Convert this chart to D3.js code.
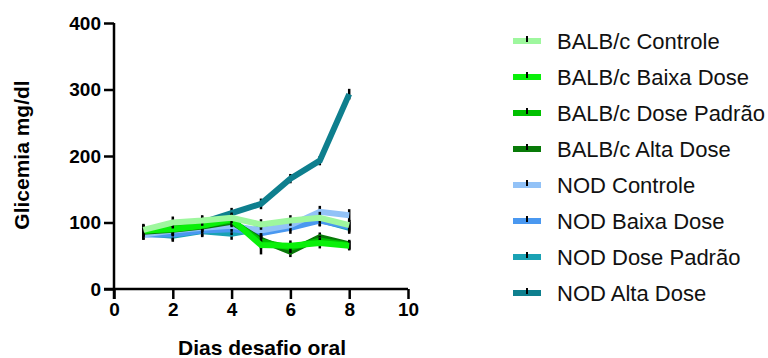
<!DOCTYPE html>
<html>
<head>
<meta charset="utf-8">
<script src="https://cdn.jsdelivr.net/npm/d3@7"></script>
<style>
  body { margin: 0; background: #fff; }
  svg text { font-family: "Liberation Sans", Arial, sans-serif; }
</style>
</head>
<body>
<div id="chart"></div>
<script>
// Dias desafio oral
const days = [1, 2, 3, 4, 5, 6, 7, 8];

const seriesNames = [
  'BALB/c Controle', 'BALB/c Baixa Dose', 'BALB/c Dose Padrão', 'BALB/c Alta Dose',
  'NOD Controle', 'NOD Baixa Dose', 'NOD Dose Padrão', 'NOD Alta Dose'
];
const seriesColors = [
  '#9ef79e', '#0af00a', '#00c000', '#087a08',
  '#92c2f7', '#4a98f0', '#1aa2b4', '#0e7f8e'
];

// mean glycemia per day
const balbControle = [89, 100, 103, 107, 97, 103, 107, 96];
const balbBaixa    = [88, 90, 95, 105, 66, 65, 69, 65];
const balbPadrao   = [87, 92, 96, 103, 71, 62, 73, 66];
const balbAlta     = [86, 89, 94, 101, 74, 56, 78, 67];
const nodControle  = [82, 88, 92, 95, 88, 96, 116, 111];
const nodBaixa     = [82, 82, 88, 90, 84, 92, 103, 94];
const nodPadrao    = [84, 80, 87, 83, 91, 98, 104, 92];
const nodAlta      = [87, 94, 100, 114, 128, 166, 193, 293];

// standard error per day
const errBalbControle = [9, 9, 8, 8, 8, 8, 9, 8];
const errBalbBaixa    = [9, 9, 8, 8, 14, 8, 8, 7];
const errBalbPadrao   = [9, 9, 8, 8, 10, 8, 7, 7];
const errBalbAlta     = [9, 9, 8, 8, 10, 8, 7, 7];
const errNodControle  = [8, 9, 9, 9, 9, 9, 9, 9];
const errNodBaixa     = [8, 9, 9, 9, 9, 9, 9, 9];
const errNodPadrao    = [8, 9, 9, 9, 9, 9, 9, 9];
const errNodAlta      = [9, 9, 9, 8, 8, 7, 7, 8];

const allMeans = [balbControle, balbBaixa, balbPadrao, balbAlta, nodControle, nodBaixa, nodPadrao, nodAlta];
const allErrs = [errBalbControle, errBalbBaixa, errBalbPadrao, errBalbAlta, errNodControle, errNodBaixa, errNodPadrao, errNodAlta];

const xTicks = [0, 2, 4, 6, 8, 10];
const yTicks = [0, 100, 200, 300, 400];

const series = seriesNames.map((name, i) => ({
  name,
  color: seriesColors[i],
  values: days.map((d, j) => ({ day: d, value: allMeans[i][j], err: allErrs[i][j] }))
}));

const width = 768, height = 358;
const svg = d3.select('#chart').append('svg')
  .attr('width', width)
  .attr('height', height);

const x = d3.scaleLinear().domain([0, 10]).range([114, 408]);
const y = d3.scaleLinear().domain([0, 400]).range([289, 23]);

// axes
const yAxis = svg.append('g')
  .attr('transform', `translate(${x(0)},0)`)
  .call(d3.axisLeft(y).tickValues(yTicks).tickSize(10).tickPadding(3).tickSizeOuter(0));
yAxis.select('.domain').attr('d', `M0,${y(400)}V${y(0) + 10}`);

const xAxis = svg.append('g')
  .attr('transform', `translate(0,${y(0)})`)
  .call(d3.axisBottom(x).tickValues(xTicks).tickSize(10).tickPadding(4).tickSizeOuter(0));
xAxis.select('.domain').attr('d', `M${x(0) - 10},0H${x(10)}`);

svg.selectAll('.domain, .tick line')
  .attr('stroke', '#000')
  .attr('stroke-width', 2.5);
svg.selectAll('.tick text')
  .attr('fill', '#000')
  .style('font-size', '19px')
  .style('font-weight', 'bold');

// axis titles
svg.append('text')
  .attr('x', 262)
  .attr('y', 355)
  .attr('text-anchor', 'middle')
  .style('font-size', '21px')
  .style('font-weight', 'bold')
  .text('Dias desafio oral');

svg.append('text')
  .attr('transform', 'translate(29,155) rotate(-90)')
  .attr('text-anchor', 'middle')
  .style('font-size', '21px')
  .style('font-weight', 'bold')
  .text('Glicemia mg/dl');

// lines, each drawn over its own error bars; first series ends up on top
const line = d3.line()
  .x(d => x(d.day))
  .y(d => y(d.value));

const plot = svg.append('g');

const groups = plot.selectAll('.series')
  .data(series.slice().reverse())
  .enter()
  .append('g')
  .attr('class', 'series');

groups.selectAll('line')
  .data(d => d.values)
  .enter()
  .append('line')
  .attr('x1', d => x(d.day))
  .attr('x2', d => x(d.day))
  .attr('y1', d => y(d.value - d.err))
  .attr('y2', d => y(d.value + d.err))
  .attr('stroke', '#000')
  .attr('stroke-width', 2.5);

groups.append('path')
  .attr('d', d => line(d.values))
  .attr('fill', 'none')
  .attr('stroke', d => d.color)
  .attr('stroke-width', 6)
  .attr('stroke-linejoin', 'miter');

// legend
const legend = svg.append('g')
  .attr('transform', 'translate(513,41)');

const items = legend.selectAll('.item')
  .data(series)
  .enter()
  .append('g')
  .attr('transform', (d, i) => `translate(0,${i * 36})`);

items.append('line')
  .attr('x1', 0).attr('x2', 28)
  .attr('y1', 0).attr('y2', 0)
  .attr('stroke', d => d.color)
  .attr('stroke-width', 6);

items.append('line')
  .attr('x1', 14).attr('x2', 14)
  .attr('y1', -5).attr('y2', 1)
  .attr('stroke', '#000')
  .attr('stroke-width', 2);

items.append('text')
  .attr('x', 44)
  .attr('y', 8)
  .style('font-size', '22px')
  .attr('fill', '#111')
  .text(d => d.name);
</script>
</body>
</html>
